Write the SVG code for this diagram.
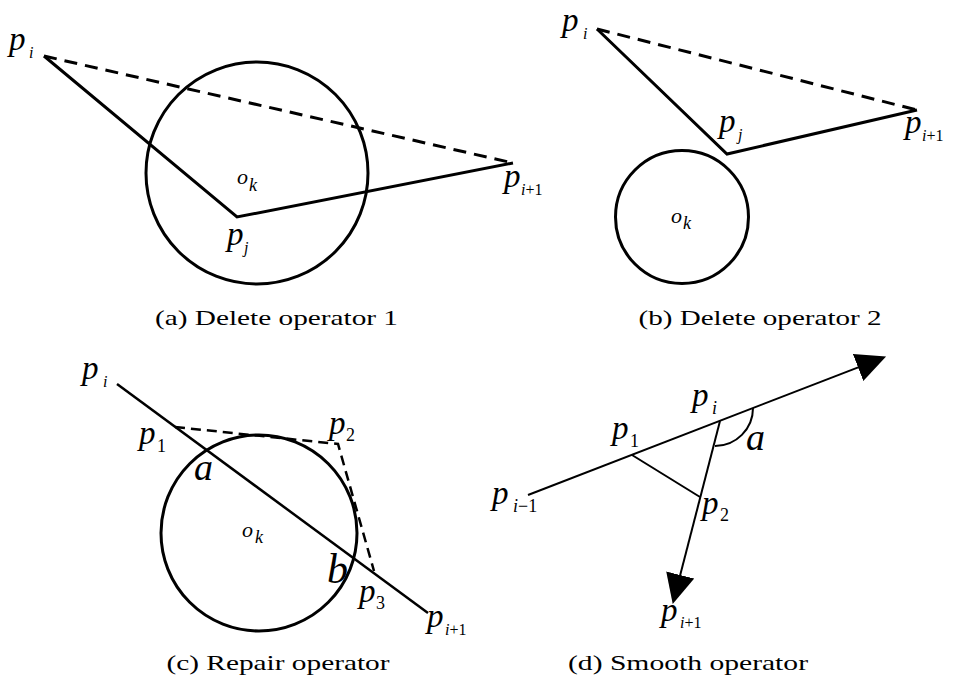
<svg xmlns="http://www.w3.org/2000/svg" width="956" height="681" viewBox="0 0 956 681">
<style>
.ln{stroke:#000;fill:none;stroke-width:3;stroke-linejoin:miter}
.thin{stroke-width:2}
.dash{stroke-dasharray:13 8}
.dash2{stroke-dasharray:10 6}
.lbl{font-family:"Liberation Serif","Times New Roman",serif;font-style:italic;font-size:33px;fill:#000}
.s{font-size:16px}
.n{font-style:normal}
.cap{font-family:"Liberation Serif","Times New Roman",serif;font-size:21px;fill:#000}
</style>
<defs>
<marker id="arr" markerUnits="userSpaceOnUse" markerWidth="30" markerHeight="30" viewBox="0 0 27 26" refX="17" refY="13" orient="auto">
<path d="M0,0 L27,13 L0,26 z" fill="#000"/>
</marker>
</defs>
<rect width="956" height="681" fill="#fff"/>

<g id="panel-a">
<g id="a-obstacle"><circle class="ln" cx="257" cy="173" r="111"/></g>
<g id="a-connectors">
<polyline class="ln" points="44,56 237,217 513,163"/>
<line class="ln dash" x1="44" y1="56" x2="513" y2="163"/>
</g>
<g id="a-pi"><text class="lbl" x="9" y="50">p<tspan class="s" x="29" y="58">i</tspan></text></g>
<g id="a-ok"><text class="lbl" x="237" y="184" style="font-size:22px">o<tspan x="249" y="191" style="font-size:18px">k</tspan></text></g>
<g id="a-pj"><text class="lbl" x="227" y="245">p<tspan class="s" x="244" y="253">j</tspan></text></g>
<g id="a-pi1"><text class="lbl" x="504" y="187">p<tspan class="s" x="521" y="195">i</tspan><tspan class="s n">+1</tspan></text></g>
<text class="cap" x="276.5" y="325" text-anchor="middle" textLength="243" lengthAdjust="spacingAndGlyphs">(a) Delete operator 1</text>
</g>

<g id="panel-b">
<g id="b-obstacle"><circle class="ln" cx="682" cy="217" r="66.5"/></g>
<g id="b-connectors">
<polyline class="ln" points="597,29 727,154 917,110"/>
<line class="ln dash" x1="597" y1="29" x2="917" y2="110"/>
</g>
<g id="b-pi"><text class="lbl" x="562" y="31">p<tspan class="s" x="583" y="39">i</tspan></text></g>
<g id="b-pj"><text class="lbl" x="719" y="132">p<tspan class="s" x="738" y="140">j</tspan></text></g>
<g id="b-pi1"><text class="lbl" x="905" y="133">p<tspan class="s" x="922" y="141">i</tspan><tspan class="s n">+1</tspan></text></g>
<g id="b-ok"><text class="lbl" x="671" y="223" style="font-size:22px">o<tspan x="683" y="229" style="font-size:18px">k</tspan></text></g>
<text class="cap" x="760" y="325" text-anchor="middle" textLength="243" lengthAdjust="spacingAndGlyphs">(b) Delete operator 2</text>
</g>

<g id="panel-c">
<g id="c-obstacle"><circle class="ln" cx="259" cy="533" r="98"/></g>
<g id="c-connectors">
<line class="ln" style="stroke-width:2.5" x1="117" y1="384" x2="428" y2="613"/>
<polyline class="ln dash2" style="stroke-width:2.5" points="175,427 338,444 374,571"/>
</g>
<g id="c-pi"><text class="lbl" x="82" y="379">p<tspan class="s" x="103" y="387">i</tspan></text></g>
<g id="c-p1"><text class="lbl" x="139" y="444">p<tspan class="s n" x="157" y="452" style="font-size:18px">1</tspan></text></g>
<g id="c-p2"><text class="lbl" x="329" y="434">p<tspan class="s n" x="346" y="441" style="font-size:18px">2</tspan></text></g>
<g id="c-a"><text class="lbl" x="194" y="480" style="font-size:38px">a</text></g>
<g id="c-b"><text class="lbl" x="327" y="583" style="font-size:42px">b</text></g>
<g id="c-ok"><text class="lbl" x="242" y="537" style="font-size:22px">o<tspan x="255" y="543" style="font-size:18px">k</tspan></text></g>
<g id="c-p3"><text class="lbl" x="359" y="602">p<tspan class="s n" x="376" y="609" style="font-size:18px">3</tspan></text></g>
<g id="c-pi1"><text class="lbl" x="427" y="627">p<tspan class="s" x="445" y="635">i</tspan><tspan class="s n">+1</tspan></text></g>
<text class="cap" x="278" y="670" text-anchor="middle" textLength="223" lengthAdjust="spacingAndGlyphs">(c) Repair operator</text>
</g>

<g id="panel-d">
<g id="d-connectors">
<line class="ln thin" x1="528" y1="495" x2="875.7" y2="360.6" marker-end="url(#arr)"/>
<line class="ln thin" x1="720" y1="421" x2="675.5" y2="593.3" marker-end="url(#arr)"/>
<line class="ln thin" x1="632" y1="455" x2="700" y2="497"/>
<path class="ln thin" d="M753,408 A38,38 0 0 1 715,446"/>
</g>
<g id="d-pi"><text class="lbl" x="692" y="406">p<tspan class="s" x="712" y="414" style="font-size:18px">i</tspan></text></g>
<g id="d-p1"><text class="lbl" x="612" y="439">p<tspan class="s n" x="630" y="447" style="font-size:18px">1</tspan></text></g>
<g id="d-a"><text class="lbl" x="746" y="450" style="font-size:38px">a</text></g>
<g id="d-pim1"><text class="lbl" x="492" y="504">p<tspan class="s" x="513" y="512" style="font-size:18px">i</tspan><tspan class="s n" style="font-size:18px">−1</tspan></text></g>
<g id="d-p2"><text class="lbl" x="702" y="514">p<tspan class="s n" x="720" y="521" style="font-size:18px">2</tspan></text></g>
<g id="d-pi1"><text class="lbl" x="661" y="621">p<tspan class="s" x="680" y="628">i</tspan><tspan class="s n">+1</tspan></text></g>
<text class="cap" x="688" y="670" text-anchor="middle" textLength="240" lengthAdjust="spacingAndGlyphs">(d) Smooth operator</text>
</g>
</svg>
